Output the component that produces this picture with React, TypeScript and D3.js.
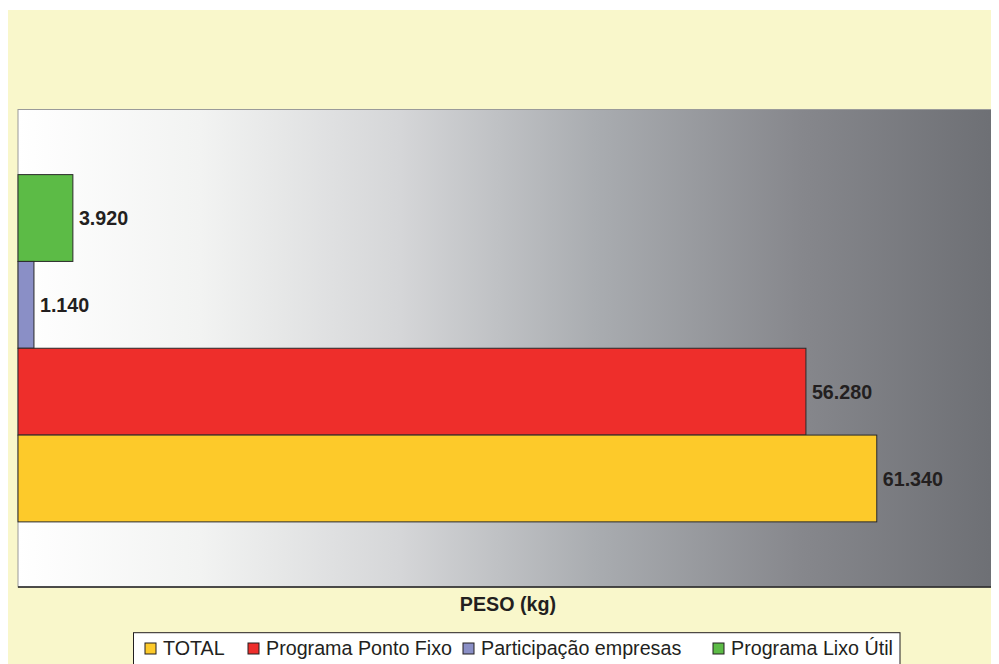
import React from "react";
import * as d3 from "d3";

// Series, top-to-bottom as drawn
const seriesNames = ["Programa Lixo Útil", "Participação empresas", "Programa Ponto Fixo", "TOTAL"];
const seriesValues = [3920, 1140, 56280, 61340];
const seriesLabels = ["3.920", "1.140", "56.280", "61.340"];
const seriesColors = ["#5cbb46", "#8a8fc6", "#ee2e2b", "#fdca2a"];
const legendOrder = ["TOTAL", "Programa Ponto Fixo", "Participação empresas", "Programa Lixo Útil"];
const xDomain = [0, 70000];
const axisTitle = "PESO (kg)";

const W = 991;
const H = 656;
const plot = { left: 10, right: 990, top: 101.5, bottom: 579 };
const FONT = "'Liberation Sans', Arial, sans-serif";
const FS = 19.7;

export default function App() {
  const x = d3.scaleLinear().domain(xDomain).range([plot.left, plot.right]);
  const y = d3
    .scaleBand<string>()
    .domain(seriesNames)
    .range([plot.top, plot.bottom])
    .paddingInner(0)
    .paddingOuter(0.75);

  const legendX = [137, 240, 455, 705];

  return (
    <svg width={W} height={H} style={{ display: "block" }} fontFamily={FONT}>
      <defs>
        <linearGradient id="bg" x1="0" x2="1" y1="0" y2="0">
          <stop offset="0" stopColor="#ffffff" />
          <stop offset="0.186" stopColor="#f2f3f2" />
          <stop offset="0.39" stopColor="#d5d6d8" />
          <stop offset="0.59" stopColor="#a9acb0" />
          <stop offset="0.8" stopColor="#86878c" />
          <stop offset="1" stopColor="#6d6f74" />
        </linearGradient>
      </defs>
      <rect x={0} y={2} width={W} height={H - 2} fill="#f9f7cb" />
      <rect
        x={plot.left}
        y={plot.top}
        width={plot.right - plot.left}
        height={plot.bottom - plot.top}
        fill="url(#bg)"
        stroke="#9a9a9a"
        strokeWidth={1}
      />
      <line x1={plot.left} x2={plot.right} y1={plot.bottom} y2={plot.bottom} stroke="#222" strokeWidth={1.5} />
      {seriesNames.map((s, i) => {
        const yy = y(s)!;
        const bw = y.bandwidth();
        const xe = x(seriesValues[i]);
        return (
          <g key={s}>
            <rect
              x={plot.left}
              y={yy}
              width={xe - plot.left}
              height={bw}
              fill={seriesColors[i]}
              stroke="#2a2a2a"
              strokeWidth={1}
            />
            <text
              x={xe + 6}
              y={yy + bw / 2}
              dy="0.36em"
              fontSize={FS}
              fontWeight="bold"
              fill="#231f20"
            >
              {seriesLabels[i]}
            </text>
          </g>
        );
      })}
      <text
        x={(plot.left + plot.right) / 2}
        y={603}
        textAnchor="middle"
        fontSize={FS}
        fontWeight="bold"
        fill="#231f20"
      >
        {axisTitle}
      </text>
      <rect x={125.5} y={624.7} width={766.5} height={40} fill="#ffffff" stroke="#231f20" strokeWidth={1} />
      {legendOrder.map((name, i) => {
        const idx = seriesNames.indexOf(name);
        const lx = legendX[i];
        return (
          <g key={name}>
            <rect x={lx} y={635} width={11} height={11} fill={seriesColors[idx]} stroke="#231f20" strokeWidth={1} />
            <text x={lx + 18} y={646.7} fontSize={FS} fill="#231f20">
              {name}
            </text>
          </g>
        );
      })}
    </svg>
  );
}
